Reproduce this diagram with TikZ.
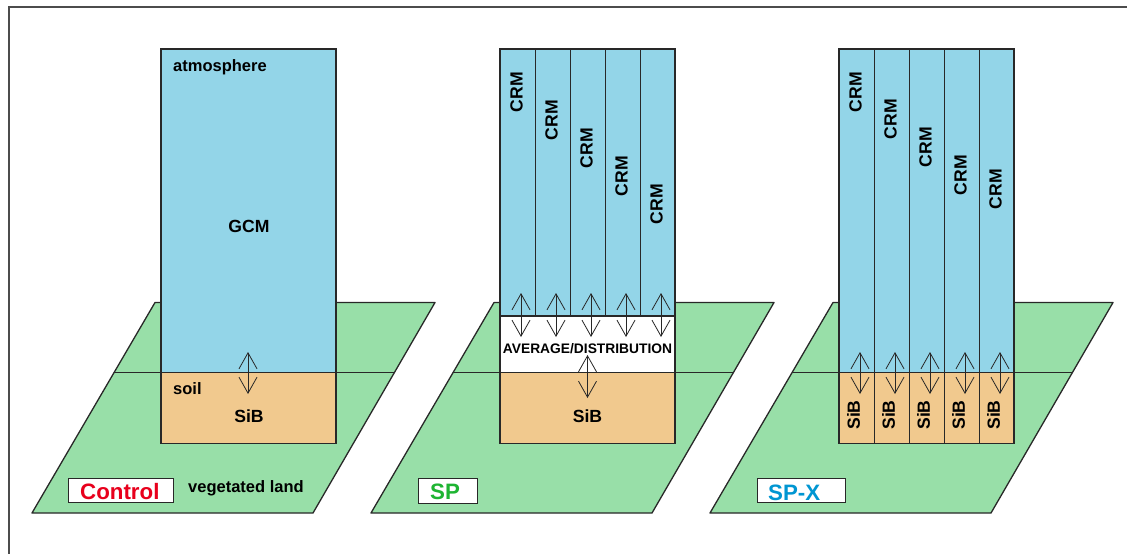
\documentclass[tikz,border=0pt]{standalone}
\usepackage{fontspec}
\setmainfont{Liberation Sans}
\usetikzlibrary{arrows.meta,calc}
\definecolor{atmoc}{RGB}{147,213,232}
\definecolor{soilc}{RGB}{241,201,142}
\definecolor{landc}{RGB}{152,223,168}
\definecolor{edgec}{RGB}{40,40,40}
\definecolor{ctrlred}{RGB}{232,0,28}
\definecolor{spgreen}{RGB}{30,180,50}
\definecolor{spxblue}{RGB}{0,150,210}
\tikzset{
  framestyle/.style={draw=black!70,line width=2pt},
  vegland/.style={fill=landc,draw=edgec,line width=1.3pt,line join=round},
  edgeline/.style={draw=edgec,line width=1.3pt},
  atmobox/.style={fill=atmoc,draw=edgec,line width=1.3pt},
  soilbox/.style={fill=soilc,draw=edgec,line width=1.3pt},
  whitebox/.style={fill=white,draw=edgec,line width=1.3pt},
  divider/.style={draw=edgec,line width=0.7pt},
  dblarrow/.style={draw=edgec,line width=0.8pt,{Straight Barb[length=16pt,width=18pt]}-{Straight Barb[length=16pt,width=18pt]}},
  lbl/.style={inner sep=0pt,font=\fontsize{16.5}{19}\selectfont\bfseries},
  big/.style={inner sep=0pt,font=\fontsize{17.6}{20}\selectfont\bfseries},
  vbig/.style={big,rotate=90},
  avg/.style={inner sep=0pt,font=\fontsize{13.8}{16}\selectfont\bfseries},
  tagbox/.style={fill=white,draw=edgec,line width=1pt},
  tagtext/.style={inner sep=0pt,anchor=base west,font=\fontsize{22.3}{25}\selectfont\bfseries},
}
\begin{document}
\begin{tikzpicture}[x=1pt,y=-1pt]
\useasboundingbox (0,0) rectangle (1127,554);
\draw[framestyle] (1127,7) -- (9,7) -- (9,554);

% ---------------- Control ----------------
\path[vegland] (155,302.5) coordinate (c-tl) -- (435,302.5) coordinate (c-tr)
  -- (313,513) coordinate (c-br) -- (32,513) coordinate (c-bl) -- cycle;
\draw[edgeline] ($(c-tl)!0.3335!(c-bl)$) -- ($(c-tr)!0.3335!(c-br)$);
\path[atmobox] (161,49) rectangle (336,372.7);
\path[soilbox] (161,372.7) rectangle (336,443.3);
\node[lbl,anchor=base west] (c-atm) at (173,71) {atmosphere};
\node[big] (c-gcm) at (249,226.5) {GCM};
\node[lbl,anchor=base west] (c-soil) at (173,394) {soil};
\node[big] (c-sib) at (249,416) {SiB};
\coordinate (c-a1) at (248,352);
\coordinate (c-a2) at (248,394);
\draw[dblarrow] (c-a1) -- (c-a2);
\path[tagbox] (68,478) rectangle (173,502);
\node[tagtext,text=ctrlred] (c-tag) at (80,499) {Control};
\node[lbl,anchor=base west] (c-veg) at (188,492) {vegetated land};

% ---------------- SP ----------------
\path[vegland] (494,302.5) coordinate (s-tl) -- (774,302.5) coordinate (s-tr)
  -- (652,513) coordinate (s-br) -- (371,513) coordinate (s-bl) -- cycle;
\draw[edgeline] ($(s-tl)!0.3335!(s-bl)$) -- ($(s-tr)!0.3335!(s-br)$);
\path[atmobox] (500,49) rectangle (675,316);
\foreach \x in {535,570,605,640} \draw[divider] (\x,49) -- (\x,316);
\path[whitebox] (500,316) rectangle (675,372.7);
\path[soilbox] (500,372.7) rectangle (675,443.3);
\foreach \i/\x/\y in {1/516.5/92,2/551.5/120,3/586.5/148,4/621.5/176,5/656.5/204}
  \node[vbig] (s-crm\i) at (\x,\y) {CRM};
\foreach \i/\x in {1/521,2/556,3/591,4/626,5/661}{
  \coordinate (s-u\i) at (\x,293);
  \coordinate (s-d\i) at (\x,337);
  \draw[dblarrow] (s-u\i) -- (s-d\i);
}
\node[avg] (s-avg) at (587.5,348.5) {AVERAGE/DISTRIBUTION};
\coordinate (s-m1) at (587.5,355);
\coordinate (s-m2) at (587.5,398);
\draw[dblarrow] (s-m1) -- (s-m2);
\node[big] (s-sib) at (587.5,416) {SiB};
\path[tagbox] (418,478) rectangle (477,503);
\node[tagtext,text=spgreen] (s-tag) at (430,499.3) {SP};

% ---------------- SP-X ----------------
\path[vegland] (833,302.5) coordinate (x-tl) -- (1113,302.5) coordinate (x-tr)
  -- (991,513) coordinate (x-br) -- (710,513) coordinate (x-bl) -- cycle;
\draw[edgeline] ($(x-tl)!0.3335!(x-bl)$) -- ($(x-tr)!0.3335!(x-br)$);
\path[atmobox] (839,49) rectangle (1014,372.7);
\path[soilbox] (839,372.7) rectangle (1014,443.3);
\foreach \x in {874,909,944,979} \draw[divider] (\x,49) -- (\x,443.3);
\foreach \i/\x/\y in {1/855.5/92,2/890.5/119,3/925.5/147,4/960.5/175,5/995.5/189}
  \node[vbig] (x-crm\i) at (\x,\y) {CRM};
\foreach \i/\x in {1/853.5,2/888.5,3/923.5,4/958.5,5/993.5}
  \node[vbig] (x-sib\i) at (\x,415) {SiB};
\foreach \i/\x in {1/860,2/895,3/930,4/965,5/1000}{
  \coordinate (x-u\i) at (\x,352);
  \coordinate (x-d\i) at (\x,394);
  \draw[dblarrow] (x-u\i) -- (x-d\i);
}
\path[tagbox] (757,478) rectangle (845.5,502.7);
\node[tagtext,text=spxblue] (x-tag) at (768,500) {SP-X};
\end{tikzpicture}
\end{document}
